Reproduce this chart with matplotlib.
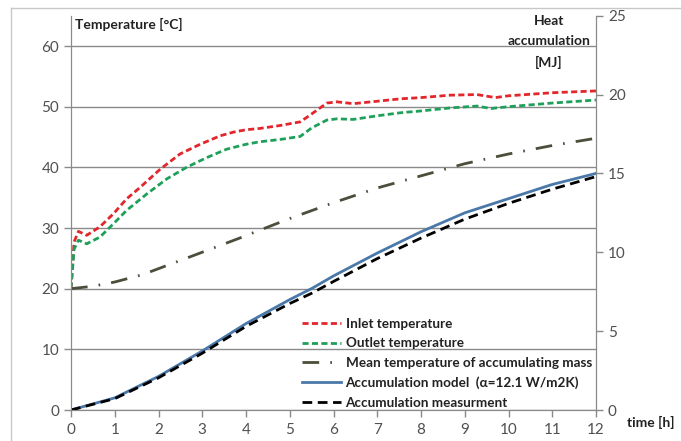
import matplotlib
matplotlib.use('Agg')
import matplotlib.pyplot as plt
from matplotlib.lines import Line2D

plt.rcParams['font.family'] = ['Lato', 'DejaVu Sans']

# temperatures [C]
t_inlet = [0, 0.07, 0.17, 0.36, 0.66, 0.97, 1.27, 1.58, 2.04, 2.49, 2.95, 3.41, 3.71, 4.0, 4.3,
           4.78, 5.24, 5.5, 5.85, 6.08, 6.45, 7.0, 7.53, 8.0, 8.67, 9.28, 9.7, 10.0, 11.0, 12.0]
inlet = [20, 27.7, 29.45, 28.8, 30.2, 32.35, 34.8, 36.7, 39.7, 42.2, 43.8, 45.2, 45.8, 46.2, 46.4,
         46.9, 47.5, 48.8, 50.6, 50.8, 50.5, 50.9, 51.3, 51.5, 51.9, 52.0, 51.5, 51.8, 52.3, 52.6]

t_outlet = [0, 0.07, 0.17, 0.36, 0.66, 0.97, 1.27, 1.73, 2.19, 2.64, 3.1, 3.56, 4.0, 4.3,
            4.78, 5.24, 5.5, 5.85, 6.08, 6.45, 7.0, 7.53, 8.0, 8.67, 9.28, 9.6, 10.0, 11.0, 12.0]
outlet = [20, 26.5, 28.0, 27.4, 28.5, 30.7, 32.9, 35.6, 38.1, 40.0, 41.6, 43.0, 43.8, 44.2,
          44.6, 45.1, 46.5, 47.8, 48.0, 47.9, 48.5, 49.0, 49.3, 49.8, 50.1, 49.7, 50.0, 50.6, 51.1]

t_mean = [0, 0.5, 1, 1.63, 2.74, 3.84, 4.94, 5.97, 7.0, 8.0, 9.0, 10.0, 11.0, 12.0]
mean_temp = [20, 20.4, 21.1, 22.3, 25.3, 28.3, 31.4, 34.1, 36.6, 38.6, 40.6, 42.2, 43.6, 44.8]

# heat accumulation [MJ]
t_heat = [0, 1, 2, 3, 4, 5, 5.5, 6, 7, 8, 9, 10, 11, 12]
heat_model = [0, 0.77, 2.13, 3.74, 5.48, 7.0, 7.7, 8.5, 9.95, 11.3, 12.5, 13.4, 14.3, 15.0]
heat_meas = [0, 0.72, 2.04, 3.6, 5.3, 6.75, 7.4, 8.15, 9.6, 10.9, 12.1, 13.1, 14.0, 14.8]

x_ticks = list(range(0, 13))
temp_ticks = [0, 10, 20, 30, 40, 50, 60]
heat_ticks = [0, 5, 10, 15, 20, 25]

grey = '#8a8a8a'
txt = '#505050'

fig = plt.figure(figsize=(6.81, 4.41), dpi=100)
ax = fig.add_axes([71 / 681, 1 - 410 / 441, (596 - 71) / 681, (410 - 15.7) / 441])
ax2 = ax.twinx()

l1, = ax.plot(t_inlet, inlet, color='#e3262b', lw=2, dashes=(2.2, 1.2))
l2, = ax.plot(t_outlet, outlet, color='#1fa05a', lw=2, dashes=(2.2, 1.2))
l3, = ax.plot(t_mean, mean_temp, color='#4d4d3c', lw=2, dashes=(6, 4, 0.6, 4))
l4, = ax2.plot(t_heat, heat_model, color='#4a78a8', lw=2)
l5, = ax2.plot(t_heat, heat_meas, color='black', lw=2, dashes=(3.5, 2))

ax.set_xlim(0, 12)
ax.set_ylim(0, 65)
ax2.set_ylim(0, 25)
ax.set_xticks(x_ticks)
ax.set_yticks(temp_ticks)
ax2.set_yticks(heat_ticks)
ax.grid(axis='y', color=grey, lw=1)
ax.set_axisbelow(True)

for a in (ax, ax2):
    a.spines['top'].set_visible(False)
    for s in ('left', 'right', 'bottom'):
        a.spines[s].set_color(grey)
    a.tick_params(colors=grey, labelcolor=txt, labelsize=11, length=5, width=1)
ax.tick_params(axis='x', pad=4)

fig.text(75 / 681, 1 - 24 / 441, 'Temperature [\u00b0C]', fontsize=10, fontweight='bold',
         color='#222222', va='center', ha='left')
fig.text(549 / 681, 1 - 42 / 441, 'Heat\naccumulation\n[MJ]', fontsize=10, fontweight='bold',
         color='#222222', va='center', ha='center', linespacing=1.85)
fig.text(627 / 681, 1 - 422 / 441, 'time [h]', fontsize=10, fontweight='bold',
         color='#222222', va='center', ha='left')

handles = [l1, l2, l3, l4, l5]
labels = ['Inlet temperature', 'Outlet temperature', 'Mean temperature of accumulating mass',
          'Accumulation model  (\u03b1=12.1 W/m2K)', 'Accumulation measurment']
leg = ax2.legend(handles, labels, loc='upper left', bbox_to_anchor=(295 / 681, 1 - 311 / 441),
                 bbox_transform=fig.transFigure, frameon=False, borderpad=0,
                 handlelength=2.9, handletextpad=0.35, labelspacing=0.56,
                 prop={'size': 9.7, 'weight': 'bold'})
for t in leg.get_texts():
    t.set_color('#222222')

# light border around the picture
fig.add_artist(Line2D([11 / 681, 11 / 681], [0, 1 - 8 / 441], color='#c8c8c8', lw=1,
                      transform=fig.transFigure))
fig.add_artist(Line2D([11 / 681, 1], [1 - 8 / 441, 1 - 8 / 441], color='#c8c8c8', lw=1,
                      transform=fig.transFigure))

fig.savefig('out.png', dpi=100)
